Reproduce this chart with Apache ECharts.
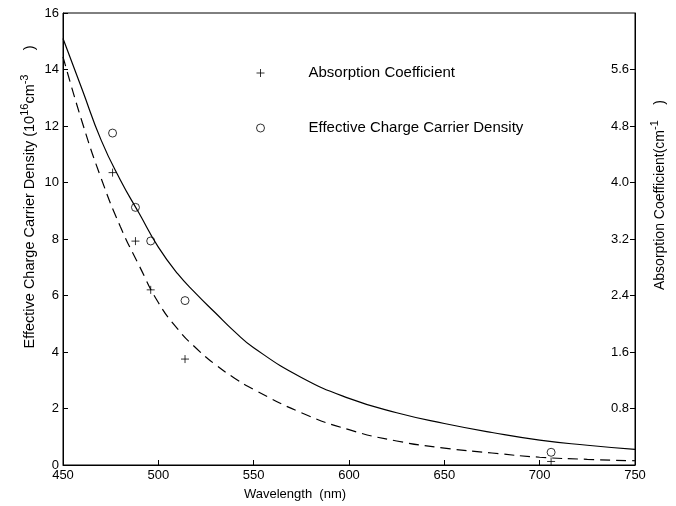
<!DOCTYPE html>
<html>
<head>
<meta charset="utf-8">
<script src="https://cdn.jsdelivr.net/npm/echarts@6/dist/echarts.min.js"></script>
<style>
html,body{margin:0;padding:0;background:#fff;}
#chart{width:676px;height:506px;}
</style>
</head>
<body>
<div id="chart"></div>
<script>
// Measured points
const markerWavelengths = [476, 488, 496, 514, 706];
const carrierDensity = [11.75, 9.12, 7.93, 5.82, 0.45];      // left axis, 10^16 cm^-3
const absorptionCoeff = [4.14, 3.17, 2.48, 1.50, 0.05];      // right axis, cm^-1

// Fitted curves
const fitX = [450, 460, 470, 480, 490, 500, 510, 520, 530, 540, 550, 575, 600, 625, 650, 675, 700, 725, 750];
const densityFitY = [15.1, 13.3, 11.5, 10.1, 8.9, 7.71, 6.78, 6.05, 5.38, 4.72, 4.15, 3.1, 2.36, 1.85, 1.47, 1.15, 0.88, 0.7, 0.55];
const absorptionFitY = [5.78, 4.86, 4.06, 3.38, 2.82, 2.30, 1.93, 1.65, 1.42, 1.23, 1.07, 0.74, 0.50, 0.34, 0.24, 0.17, 0.11, 0.08, 0.06];

// Axis settings
const xTicks = {min: 450, max: 750, interval: 50};
const leftTicks = {min: 0, max: 16, interval: 2};
const rightTicks = {min: 0, max: 6.4, interval: 0.8};

const seriesNames = ['Absorption Coefficient', 'Effective Charge Carrier Density'];
const xTitle = 'Wavelength  (nm)';
const leftTitle = '{n|Effective Charge Carrier Density (10}{s|16}{n|cm}{s|-3}{n|      )}';
const rightTitle = '{n|Absorption Coefficient(cm}{s|-1}{n|    )}';

const FONT = "'Liberation Sans', Arial, Helvetica, sans-serif";
const zip = (a, b) => a.map((v, i) => [v, b[i]]);
const crossPath = 'path://M0,5L10,5M5,0L5,10';
const titleRich = (size) => ({
  n: {fontSize: size, fontFamily: FONT, lineHeight: 18, verticalAlign: 'bottom', fill: '#000'},
  s: {fontSize: 11, fontFamily: FONT, lineHeight: 11, verticalAlign: 'top', fill: '#000'}
});

const chart = echarts.init(document.getElementById('chart'), null, {renderer: 'canvas'});
chart.setOption({
  animation: false,
  backgroundColor: '#fff',
  textStyle: {fontFamily: FONT, color: '#000'},
  grid: {left: 63, right: 41, top: 13, bottom: 41, show: true, borderColor: '#000', borderWidth: 1, backgroundColor: 'transparent'},
  legend: {
    orient: 'vertical', left: 251, top: 60, itemGap: 39,
    itemWidth: 8, itemHeight: 8,
    itemStyle: {borderWidth: 1},
    data: seriesNames,
    textStyle: {fontFamily: FONT, fontSize: 15, color: '#000', lineHeight: 16, padding: [0, 0, 0, 39]}
  },
  xAxis: {
    type: 'value', min: xTicks.min, max: xTicks.max, interval: xTicks.interval,
    axisLine: {lineStyle: {color: '#000', width: 1}},
    axisTick: {inside: true, length: 5, lineStyle: {color: '#000'}},
    axisLabel: {color: '#000', fontSize: 13, fontFamily: FONT, margin: 4},
    splitLine: {show: false}
  },
  yAxis: [{
    type: 'value', min: leftTicks.min, max: leftTicks.max, interval: leftTicks.interval,
    axisLine: {show: true, lineStyle: {color: '#000', width: 1}},
    axisTick: {show: true, inside: true, length: 5, lineStyle: {color: '#000'}},
    axisLabel: {color: '#000', fontSize: 13, fontFamily: FONT, margin: 4},
    splitLine: {show: false}
  }, {
    type: 'value', position: 'right', min: rightTicks.min, max: rightTicks.max, interval: rightTicks.interval,
    axisLine: {show: true, lineStyle: {color: '#000', width: 1}},
    axisTick: {show: true, inside: true, length: 5, lineStyle: {color: '#000'}},
    axisLabel: {inside: true, color: '#000', fontSize: 13, fontFamily: FONT, margin: 6,
      showMinLabel: false, showMaxLabel: false, formatter: v => v.toFixed(1)},
    splitLine: {show: false}
  }],
  graphic: [
    {type: 'text', x: 295, y: 494, style: {text: xTitle, font: '13px ' + FONT, fill: '#000', textAlign: 'center', textVerticalAlign: 'middle'}},
    {type: 'text', x: 28, y: 197, rotation: Math.PI / 2, style: {text: leftTitle, rich: titleRich(14.5), textAlign: 'center', textVerticalAlign: 'middle'}},
    {type: 'text', x: 658, y: 195, rotation: Math.PI / 2, style: {text: rightTitle, rich: titleRich(14), textAlign: 'center', textVerticalAlign: 'middle'}}
  ],
  series: [
    {
      name: 'densityFit', type: 'line', yAxisIndex: 0, data: zip(fitX, densityFitY),
      smooth: 0.5, showSymbol: false, symbol: 'none',
      lineStyle: {color: '#000', width: 1.2}, z: 2
    },
    {
      name: 'absorptionFit', type: 'line', yAxisIndex: 1, data: zip(fitX, absorptionFitY),
      smooth: 0.5, showSymbol: false, symbol: 'none',
      lineStyle: {color: '#000', width: 1.2, type: [10, 6]}, z: 2
    },
    {
      name: seriesNames[0], type: 'scatter', yAxisIndex: 1, data: zip(markerWavelengths, absorptionCoeff),
      symbol: crossPath, symbolSize: 8,
      itemStyle: {color: 'rgba(0,0,0,0)', borderColor: '#000', borderWidth: 1}, z: 3
    },
    {
      name: seriesNames[1], type: 'scatter', yAxisIndex: 0, data: zip(markerWavelengths, carrierDensity),
      symbol: 'circle', symbolSize: 8,
      itemStyle: {color: 'rgba(0,0,0,0)', borderColor: '#000', borderWidth: 1}, z: 3
    }
  ]
});
</script>
</body>
</html>
